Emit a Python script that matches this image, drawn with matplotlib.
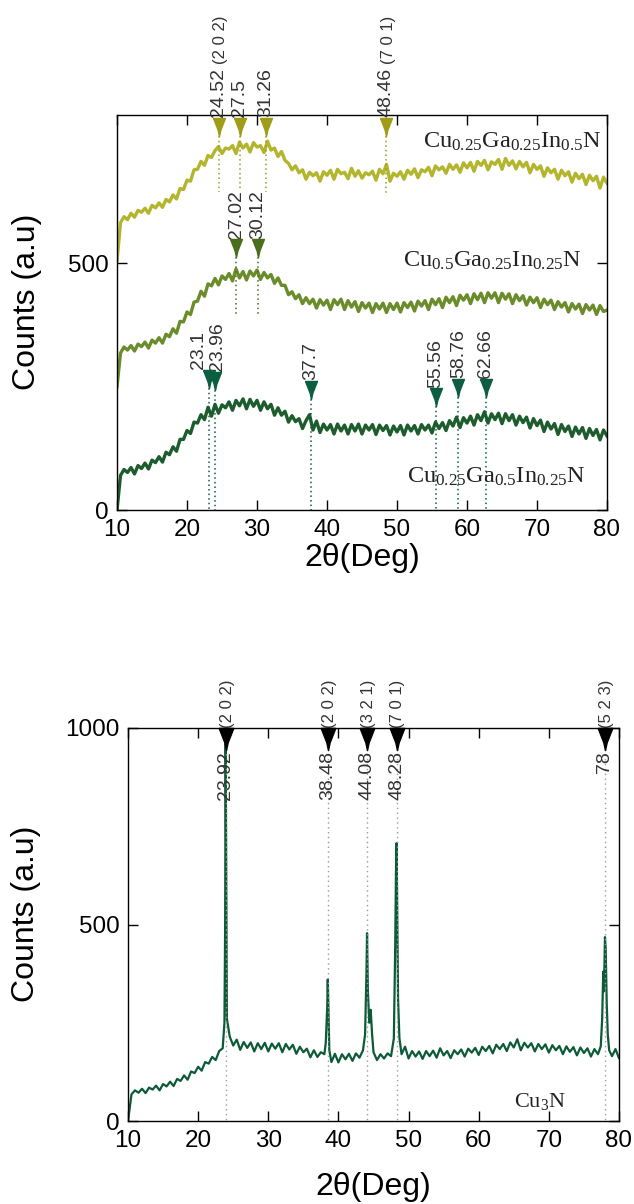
import numpy as np
import matplotlib
matplotlib.use('agg')
import matplotlib.pyplot as plt
from matplotlib.path import Path

plt.rcParams['font.family'] = ['Liberation Sans', 'DejaVu Sans']
plt.rcParams['mathtext.fontset'] = 'custom'
plt.rcParams['mathtext.rm'] = 'Liberation Serif'
plt.rcParams['mathtext.it'] = 'Liberation Serif:italic'

# ---- top panel: three alloys, sampled every 0.5 deg from 10 to 80 ----
cgi_a = [505, 582, 594, 588, 601, 593, 607, 603, 611, 601, 617, 612, 622, 613, 629, 624,
         638, 630, 651, 649, 668, 666, 689, 690, 706, 698, 718, 714, 728, 736, 722, 733,
         731, 738, 722, 745, 733, 741, 725, 744, 735, 738, 724, 747, 729, 733, 716, 726,
         708, 702, 689, 697, 683, 689, 670, 684, 677, 683, 666, 685, 678, 688, 670, 690,
         681, 684, 671, 692, 676, 687, 672, 683, 679, 686, 668, 690, 681, 700, 666, 682,
         676, 685, 670, 688, 680, 691, 673, 689, 685, 694, 677, 697, 689, 695, 682, 700,
         690, 699, 684, 703, 693, 704, 686, 706, 698, 708, 689, 705, 700, 710, 690, 712,
         698, 707, 691, 706, 695, 704, 683, 700, 690, 697, 676, 693, 683, 690, 670, 688,
         677, 685, 664, 682, 671, 680, 659, 678, 667, 676, 652, 674, 662]
cgi_b = [250, 318, 330, 324, 333, 322, 336, 331, 340, 328, 344, 338, 349, 338, 356, 351,
         367, 358, 382, 381, 401, 396, 421, 423, 443, 433, 458, 454, 469, 456, 474, 467,
         479, 464, 488, 470, 483, 466, 484, 474, 486, 467, 481, 470, 477, 459, 470, 455,
         455, 436, 442, 428, 436, 418, 430, 418, 427, 409, 426, 415, 425, 406, 426, 416,
         427, 406, 424, 411, 422, 402, 420, 409, 419, 400, 418, 407, 419, 400, 418, 406,
         419, 401, 420, 410, 421, 403, 423, 413, 424, 406, 427, 416, 428, 410, 431, 420,
         432, 414, 435, 425, 436, 418, 438, 426, 439, 420, 440, 429, 440, 420, 439, 427,
         438, 418, 436, 424, 434, 415, 431, 420, 430, 410, 427, 416, 425, 406, 422, 411,
         420, 401, 418, 407, 417, 398, 416, 405, 415, 396, 414, 402, 405]
cgi_c = [0, 70, 82, 76, 86, 73, 90, 84, 95, 83, 101, 96, 108, 97, 117, 112,
         128, 119, 143, 143, 161, 155, 178, 176, 193, 183, 208, 190, 214, 196, 213, 207,
         219, 202, 222, 211, 225, 205, 224, 210, 222, 202, 219, 205, 214, 192, 207, 192,
         200, 178, 191, 179, 185, 165, 181, 193, 162, 180, 157, 174, 162, 173, 154, 174,
         160, 172, 154, 173, 160, 174, 154, 172, 162, 173, 153, 172, 161, 171, 152, 170,
         158, 171, 152, 172, 160, 171, 154, 173, 162, 172, 156, 178, 165, 177, 161, 181,
         170, 188, 167, 187, 176, 190, 172, 193, 181, 199, 176, 195, 183, 196, 175, 195,
         181, 193, 172, 190, 177, 188, 166, 185, 171, 182, 159, 178, 164, 175, 153, 173,
         159, 170, 149, 168, 154, 167, 145, 165, 151, 163, 142, 162, 150]

top_series = [
    (cgi_a, '#b3b52c', r'$\mathrm{Cu_{0.25}Ga_{0.25}In_{0.5}N}$', (79.2, 745)),
    (cgi_b, '#6a8c2a', r'$\mathrm{Cu_{0.5}Ga_{0.25}In_{0.25}N}$', (76.3, 505)),
    (cgi_c, '#1d5c2c', r'$\mathrm{Cu_{0.25}Ga_{0.5}In_{0.25}N}$', (77.0, 68)),
]

# peak markers: position, marker height, dotted line end, hkl, label shift (px)
peaks_a = [(24.52, 776, 645, '(2 0 2)', 0), (27.5, 776, 650, '', 0),
           (31.26, 776, 645, '', 0), (48.46, 776, 643, '(7 0 1)', 0)]
peaks_b = [(27.02, 530, 397, '', 0), (30.12, 530, 397, '', 0)]
peaks_c = [(23.1, 266, 0, '', -10), (23.96, 262, 0, '', 3), (37.7, 244, 0, '', 0),
           (55.56, 228, 0, '', 0), (58.76, 248, 0, '', 0), (62.66, 248, 0, '', 0)]
peak_colors = ['#a09c18', '#4b6e1c', '#0b5e40']

# ---- bottom panel: Cu3N ----
cu3n_x = [10.0, 10.5, 11.0, 11.5, 12.0, 12.5, 13.0, 13.5, 14.0, 14.5, 15.0, 15.5, 16.0, 16.5,
          17.0, 17.5, 18.0, 18.5, 19.0, 19.5, 20.0, 20.5, 21.0, 21.5, 22.0, 22.5, 23.0, 23.5,
          23.75, 23.85, 23.92, 24.0, 24.1, 24.5, 25.0, 25.5, 26.0, 26.5, 27.0, 27.5, 28.0,
          28.5, 29.0, 29.5, 30.0, 30.5, 31.0, 31.5, 32.0, 32.5, 33.0, 33.5, 34.0, 34.5, 35.0,
          35.5, 36.0, 36.5, 37.0, 37.5, 38.0, 38.2, 38.4, 38.48, 38.56, 38.7, 39.0, 39.5,
          40.0, 40.5, 41.0, 41.5, 42.0, 42.5, 43.0, 43.5, 43.8, 44.0, 44.08, 44.2, 44.4,
          44.6, 44.8, 45.0, 45.5, 46.0, 46.5, 47.0, 47.5, 47.9, 48.1, 48.2, 48.28, 48.36,
          48.5, 48.7, 49.0, 49.5, 50.0, 50.5, 51.0, 51.5, 52.0, 52.5, 53.0, 53.5, 54.0,
          54.5, 55.0, 55.5, 56.0, 56.5, 57.0, 57.5, 58.0, 58.5, 59.0, 59.5, 60.0, 60.5,
          61.0, 61.5, 62.0, 62.5, 63.0, 63.5, 64.0, 64.5, 65.0, 65.5, 66.0, 66.5, 67.0,
          67.5, 68.0, 68.5, 69.0, 69.5, 70.0, 70.5, 71.0, 71.5, 72.0, 72.5, 73.0, 73.5,
          74.0, 74.5, 75.0, 75.5, 76.0, 76.5, 77.0, 77.4, 77.6, 77.75, 77.85, 78.0, 78.1,
          78.25, 78.4, 78.6, 79.0, 79.5, 80.0]
cu3n_y = [0, 68, 78, 72, 82, 71, 85, 80, 90, 78, 94, 88, 100, 89,
          107, 102, 116, 105, 126, 122, 138, 128, 150, 146, 163, 155, 178, 185,
          250, 500, 960, 620, 260, 215, 192, 207, 181, 201, 186, 200, 177,
          198, 183, 199, 177, 197, 184, 198, 175, 196, 182, 194, 171, 189, 175,
          184, 162, 180, 163, 175, 170, 200, 290, 360, 300, 180, 150, 171,
          149, 170, 157, 171, 153, 172, 161, 180, 220, 380, 478, 330, 250,
          283, 220, 175, 155, 170, 159, 172, 165, 210, 450, 630, 707, 580,
          310, 210, 170, 189, 159, 178, 164, 177, 158, 178, 165, 179, 161,
          185, 167, 178, 160, 180, 170, 182, 164, 184, 174, 186, 168, 189,
          178, 191, 172, 194, 183, 196, 178, 200, 187, 208, 180, 199, 187,
          198, 177, 196, 183, 195, 174, 193, 180, 191, 170, 190, 176, 188,
          167, 187, 173, 185, 164, 183, 170, 190, 260, 380, 330, 468, 440,
          300, 220, 180, 165, 183, 160]
peaks_cu3n = [(23.92, '(2 0 2)'), (38.48, '(2 0 2)'), (44.08, '(3 2 1)'),
              (48.28, '(7 0 1)'), (78, '(5 2 3)')]

# narrow down-pointing arrow head
tri = Path([(-0.66, 1), (0.66, 1), (0.15, -0.3), (0, -1), (-0.15, -0.3), (-0.66, 1)])


def style_axes(ax, ymax, yticks, xlab_pos, ylab_pos):
    ax.set_xlim(10, 80)
    ax.set_ylim(0, ymax)
    ax.set_xticks(range(10, 81, 10))
    ax.set_yticks(yticks)
    ax.tick_params(direction='in', top=True, right=True, length=7, width=1, labelsize=17.5)
    ax.tick_params(axis='x', pad=6.5)
    ax.tick_params(axis='y', pad=6)
    for s in ax.spines.values():
        s.set_linewidth(1)
    ax.set_xlabel(u'2\u03b8(Deg)', fontsize=23)
    ax.set_ylabel('Counts (a.u)', fontsize=23)
    ax.xaxis.set_label_coords(0.5, xlab_pos)
    ax.xaxis.label.set_va('center')
    ax.yaxis.set_label_coords(ylab_pos, 0.528)
    ax.yaxis.label.set_va('center')


fig = plt.figure(figsize=(6.34, 12.04), dpi=100)

# top panel
ax1 = fig.add_axes([117/634, 1-510/1204, 490/634, 395/1204])
for (vals, col, name, pos) in top_series:
    xs = np.linspace(10, 80, len(vals))
    ax1.plot(xs, vals, color=col, lw=2.4)
    ax1.text(pos[0], pos[1], name, ha='right', va='center', fontsize=17.5, color='#222222')

for pk, col in zip([peaks_a, peaks_b, peaks_c], peak_colors):
    for (px, py, yend, hkl, dx) in pk:
        ax1.plot([px, px], [py, yend], ls=(0, (1, 2)), color=col, lw=1.1)
        ax1.plot(px, py, marker=tri, ms=13, color=col, clip_on=False, zorder=5)
        t = ax1.annotate('%g' % px, xy=(px, py), xytext=(dx * 0.72, 7), textcoords='offset points',
                         rotation=90, ha='center', va='bottom', fontsize=14,
                         color='#333333', annotation_clip=False)
        if hkl:
            ax1.annotate(hkl, xy=(0.5, 1), xycoords=t, xytext=(1.5, 3),
                         textcoords='offset points', rotation=90, ha='center',
                         va='bottom', fontsize=12, color='#333333', annotation_clip=False)
style_axes(ax1, 800, [0, 500], -0.1215, -0.184)
ax1.set_yticklabels(['0', '500'])

# bottom panel
ax2 = fig.add_axes([128/634, 1-1121/1204, 491/634, 393/1204])
ax2.plot(cu3n_x, cu3n_y, color='#0c5a38', lw=1.6)
ax2.text(72.4, 50, r'$\mathrm{Cu_3N}$', ha='right', va='center', fontsize=16, color='#222222')
for (px, hkl) in peaks_cu3n:
    ax2.plot([px, px], [960, 0], ls=(0, (1, 2.5)), color='#9a9a9a', lw=1)
    ax2.plot(px, 972, marker=tri, ms=16, color='black', clip_on=False, zorder=5)
    ax2.annotate('%g' % px, xy=(px, 945), xytext=(0, -1), textcoords='offset points',
                 rotation=90, ha='center', va='top', fontsize=14, color='#333333')
    ax2.annotate(hkl, xy=(px, 1000), xytext=(1, 0), textcoords='offset points',
                 rotation=90, ha='center', va='bottom', fontsize=12, color='#333333',
                 annotation_clip=False)
style_axes(ax2, 1000, [0, 500, 1000], -0.168, -0.208)

fig.savefig('out.png', dpi=100)
